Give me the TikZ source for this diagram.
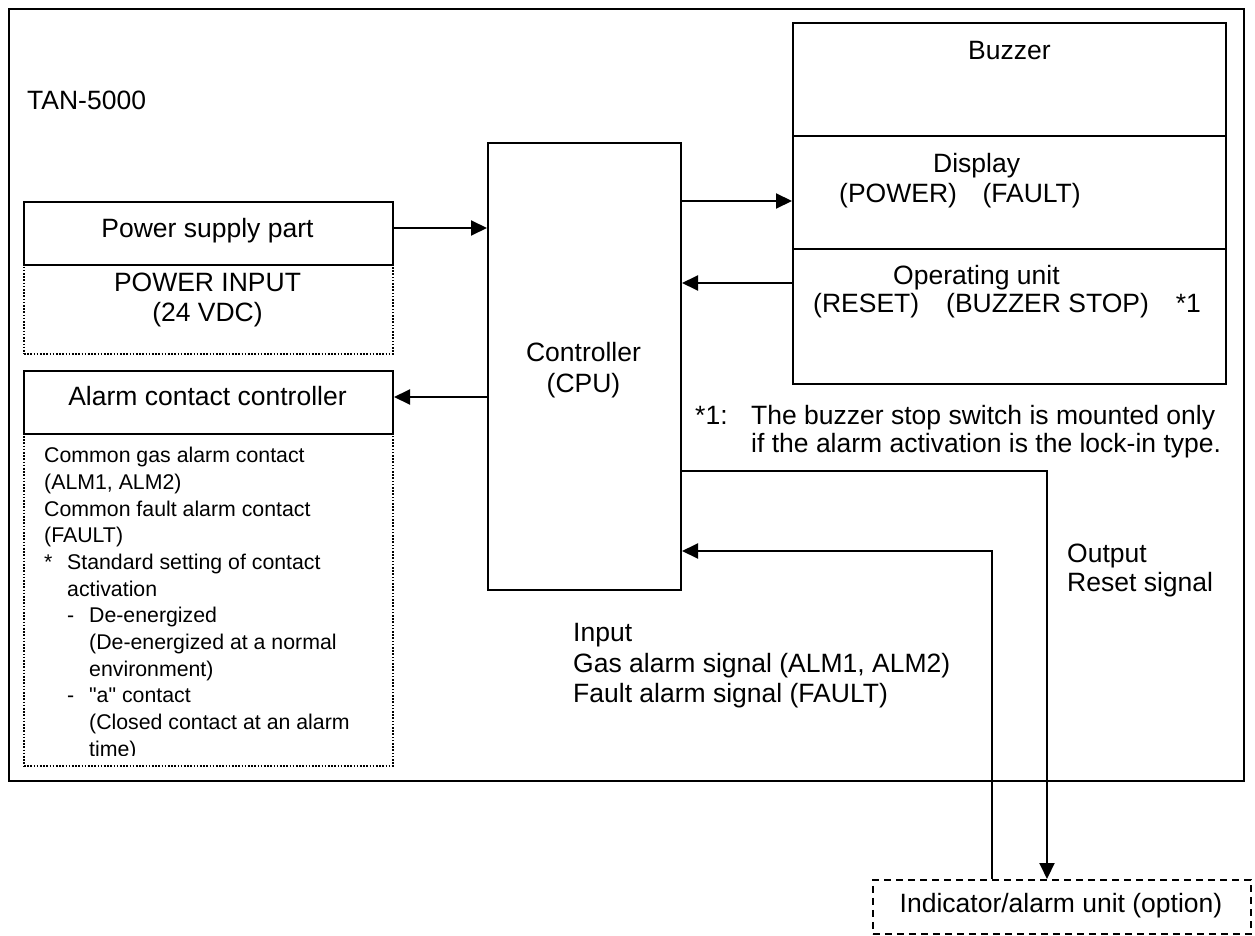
\documentclass[tikz,border=0pt]{standalone}
\usepackage{fontspec}
\setmainfont{Liberation Sans}[Ligatures=TeXOff]
\usetikzlibrary{arrows.meta}
\newcommand\mainsz{\fontsize{26.5pt}{30pt}\selectfont}
\newcommand\smallsz{\fontsize{21.3pt}{26.7pt}\selectfont}
\begin{document}
\begin{tikzpicture}[x=1pt,y=-1pt,
  box/.style={draw, line width=2pt, inner sep=0pt, anchor=north west},
  dotbox/.style={draw, line width=1.8pt, dash pattern=on 1.6pt off 1.6pt, inner sep=0pt, anchor=north west},
  dashbox/.style={draw, line width=1.6pt, dash pattern=on 7pt off 5pt, inner sep=0pt, anchor=north west},
  arr/.style={line width=2pt, -{Triangle[length=16pt,width=15pt]}},
  lbl/.style={inner sep=0pt, anchor=base west, font=\mainsz},
  lblc/.style={inner sep=0pt, anchor=base, font=\mainsz}]
\useasboundingbox (0,0) rectangle (1255,936);

% boxes
\node[box, line width=2.2pt, minimum width=1235pt, minimum height=772pt] (frame) at (8,8) {};
\node[dotbox, minimum width=369pt, minimum height=89pt] (pwin) at (23,264) {};
\node[box, minimum width=369pt, minimum height=63pt] (pw) at (23,201) {};
\node[dotbox, minimum width=369pt, minimum height=332pt] (alin) at (23,433) {};
\node[box, minimum width=369pt, minimum height=63pt] (al) at (23,370) {};
\node[box, minimum width=193pt, minimum height=447pt] (ctrl) at (487,142) {};
\node[box, minimum width=433pt, minimum height=113pt] (buz) at (792,22) {};
\node[box, minimum width=433pt, minimum height=113pt] (disp) at (792,135) {};
\node[box, minimum width=433pt, minimum height=135pt] (oper) at (792,248) {};
\node[dashbox, minimum width=378pt, minimum height=54pt] (ind) at (872,879) {};

% connector levels
\coordinate (yPow) at (0,228);
\coordinate (yDisp) at (0,201);
\coordinate (yOp) at (0,283);
\coordinate (yAl) at (0,397);
\coordinate (yOut) at (0,471);
\coordinate (yIn) at (0,551);
\coordinate (xOut) at (1047,0);
\coordinate (xIn) at (992,0);

\draw[arr] (pw.east |- yPow) -- (ctrl.west |- yPow);
\draw[arr] (ctrl.east |- yDisp) -- (disp.west |- yDisp);
\draw[arr] (oper.west |- yOp) -- (ctrl.east |- yOp);
\draw[arr] (ctrl.west |- yAl) -- (al.east |- yAl);
\draw[arr] (ctrl.east |- yOut) -| (ind.north -| xOut);
\draw[arr] (ind.north -| xIn) |- (ctrl.east |- yIn);

% labels
\node[lbl] (tan) at (27,110) {TAN-5000};
\node[lblc] (pwt) at (207.5,237.5) {Power supply part};
\node[lblc] (pwi1) at (207.5,291.5) {POWER INPUT};
\node[lblc] (pwi2) at (207.5,321.5) {(24 VDC)};
\node[lblc] (alt) at (207.5,405.5) {Alarm contact controller};
\node[lblc] (c1) at (583.5,361.5) {Controller};
\node[lblc] (c2) at (583.5,392.5) {(CPU)};
\node[lbl] (bz) at (968,59.5) {Buzzer};
\node[lbl] (d1) at (933,172.5) {Display};
\node[lbl] (d2) at (839,202.5) {(POWER)\hspace{25.6pt}(FAULT)};
\node[lbl] (o1) at (893,284.5) {Operating unit};
\node[lbl] (o2) at (813,312.5) {(RESET)\hspace{27pt}(BUZZER STOP)\hspace{27pt}*1};
\node[lbl] (n0) at (695,424.5) {*1:};
\node[lbl] (n1) at (751,424.5) {The buzzer stop switch is mounted only};
\node[lbl] (n2) at (751,452.5) {if the alarm activation is the lock-in type.};
\node[lbl] (out1) at (1067,562.5) {Output};
\node[lbl] (out2) at (1067,591.5) {Reset signal};
\node[lbl] (in1) at (573,641.5) {Input};
\node[lbl] (in2) at (573,672.5) {Gas alarm signal (ALM1, ALM2)};
\node[lbl] (in3) at (573,702.5) {Fault alarm signal (FAULT)};
\node[lblc] (indt) at (1061,912) {Indicator/alarm unit (option)};

\begin{scope}
\clip (23,433) rectangle (392,755);
\node[inner sep=0pt, anchor=base west] (alspec) at (44,462.6) {\parbox[t]{345pt}{\smallsz\raggedright
Common gas alarm contact\\
(ALM1, ALM2)\\
Common fault alarm contact\\
(FAULT)\\
\makebox[23pt][l]{*}Standard setting of contact\\
\hspace*{23pt}activation\\
\hspace*{23pt}\makebox[22pt][l]{-}De-energized\\
\hspace*{45pt}(De-energized at a normal\\
\hspace*{45pt}environment)\\
\hspace*{23pt}\makebox[22pt][l]{-}"a" contact\\
\hspace*{45pt}(Closed contact at an alarm\\
\hspace*{45pt}time)}};
\end{scope}
\end{tikzpicture}
\end{document}
